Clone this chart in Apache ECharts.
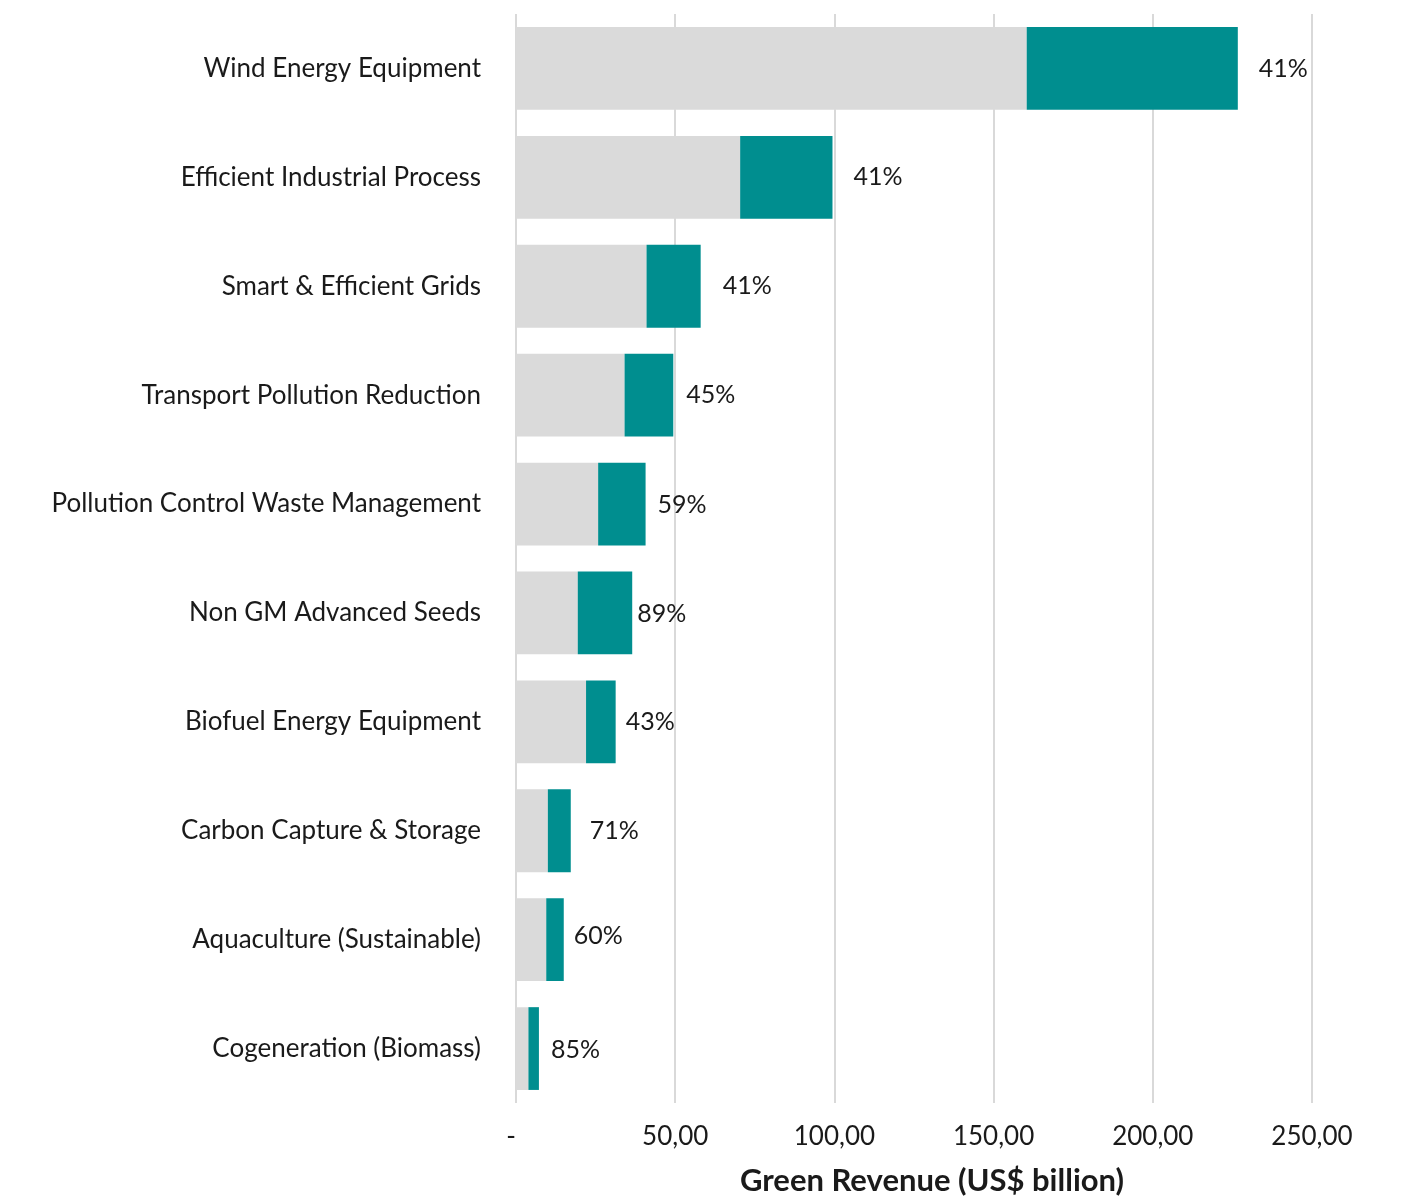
<!DOCTYPE html>
<html>
<head>
<meta charset="utf-8">
<title>Green Revenue by Sector</title>
<script src="https://cdn.jsdelivr.net/npm/echarts@6/dist/echarts.min.js"></script>
<style>
  html, body { margin: 0; padding: 0; background: #ffffff; }
  #chart { width: 1408px; height: 1196px; }
</style>
</head>
<body>
<div id="chart"></div>
<script>
// Sectors, top to bottom
const categories = [
  'Wind Energy Equipment',
  'Efficient Industrial Process',
  'Smart & Efficient Grids',
  'Transport Pollution Reduction',
  'Pollution Control Waste Management',
  'Non GM Advanced Seeds',
  'Biofuel Energy Equipment',
  'Carbon Capture & Storage',
  'Aquaculture (Sustainable)',
  'Cogeneration (Biomass)'
];

// Base green revenue (US$ billion), grey segment
const baseRevenue = [160.4, 70.4, 41.0, 34.1, 25.8, 19.4, 22.0, 10.0, 9.5, 3.9];

// Additional green revenue (US$ billion), teal segment
const addedRevenue = [66.3, 29.0, 17.0, 15.3, 14.9, 17.1, 9.3, 7.2, 5.5, 3.3];

// Percentage shown beside each bar
const shareLabels = ['41%', '41%', '41%', '45%', '59%', '89%', '43%', '71%', '60%', '85%'];

// Axis tick labels
const tickValues = [0, 50, 100, 150, 200, 250];
const tickLabels = ['-', '50,00', '100,00', '150,00', '200,00', '250,00'];

// Label placement tweaks: [gap from bar end, vertical shift]
const labelNudge = [[21, 0], [21, 0], [22, 0], [13, 0], [12, 1], [5, 1], [10, 0], [19, 0], [10, -4], [12, 1]];

const FONT = 'Lato, "Open Sans", sans-serif';
const TEXT = '#1a1a1a';

const chart = echarts.init(document.getElementById('chart'), null, { renderer: 'canvas' });

chart.setOption({
  animation: false,
  backgroundColor: '#ffffff',
  grid: {
    left: 516, right: 96, top: 14, bottom: 93,
    containLabel: false,
    outerBoundsMode: 'none'
  },
  xAxis: {
    type: 'value',
    min: 0,
    max: 250,
    interval: 50,
    axisLine: { show: false },
    axisTick: { show: false },
    splitLine: { show: true, lineStyle: { color: '#d9d9d9', width: 2 } },
    axisLabel: {
      margin: 21,
      fontFamily: FONT,
      fontSize: 26,
      color: TEXT,
      formatter: function (v) {
        const i = tickValues.indexOf(v);
        if (i < 0) return '';
        // the zero tick's dash sits slightly left of the baseline
        return i === 0 ? '{dash|' + tickLabels[i] + '}' : tickLabels[i];
      },
      rich: {
        dash: { fontFamily: FONT, fontSize: 26, color: TEXT, padding: [0, 10, 0, 0] }
      }
    },
    name: 'Green Revenue (US$ billion)',
    nameLocation: 'middle',
    nameGap: 62,
    nameTextStyle: {
      fontFamily: FONT,
      fontSize: 31,
      fontWeight: 'bold',
      color: TEXT,
      padding: [0, 0, 0, 36]
    }
  },
  yAxis: {
    type: 'category',
    data: categories,
    inverse: true,
    axisLine: { show: false },
    axisTick: { show: false },
    splitLine: { show: false },
    axisLabel: {
      margin: 35,
      fontFamily: FONT,
      fontSize: 26,
      color: TEXT
    }
  },
  series: [
    {
      name: 'Base',
      type: 'bar',
      stack: 'revenue',
      barCategoryGap: '24%',
      itemStyle: { color: '#dadada' },
      data: baseRevenue
    },
    {
      name: 'Added',
      type: 'bar',
      stack: 'revenue',
      barCategoryGap: '24%',
      itemStyle: { color: '#008e8f' },
      data: addedRevenue.map(function (v, i) {
        return {
          value: v,
          label: {
            show: true,
            position: 'right',
            distance: labelNudge[i][0],
            offset: [0, labelNudge[i][1]],
            formatter: shareLabels[i],
            fontFamily: FONT,
            fontSize: 25,
            color: TEXT
          }
        };
      })
    }
  ]
});
</script>
</body>
</html>
